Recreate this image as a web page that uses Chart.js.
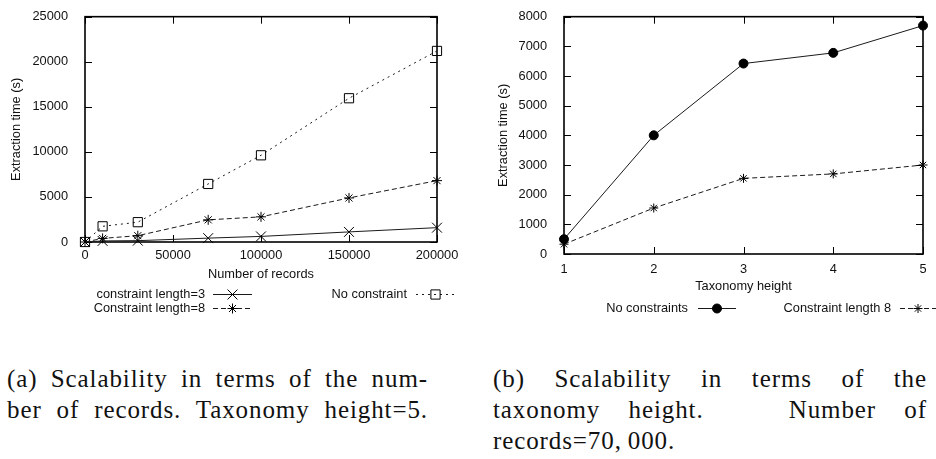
<!doctype html>
<html lang="en">
<head>
  <meta charset="utf-8">
  <title>Scalability of extraction time</title>
  <script src="https://cdn.jsdelivr.net/npm/chart.js"></script>
  <style>
    body { margin: 0; background: #fff; width: 936px; height: 459px; overflow: hidden; position: relative; }
    canvas { position: absolute; top: 0; }
    #chartA { left: 0; }
    #chartB { left: 470px; }
    .caption {
      position: absolute; top: 363px;
      font-family: "Liberation Serif", "DejaVu Serif", serif;
      font-size: 25px; line-height: 31px; letter-spacing: 0.9px; color: #111;
    }
    .caption .j { text-align: justify; text-align-last: justify; }
    #capA { left: 7px; width: 421px; }
    #capB { left: 493px; width: 434px; }
  </style>
</head>
<body>
  <canvas id="chartA" width="470" height="330"></canvas>
  <canvas id="chartB" width="466" height="330"></canvas>

  <div class="caption" id="capA">
    <div class="j">(a) Scalability in terms of the num-</div>
    <div class="j">ber of records. Taxonomy height=5.</div>
  </div>
  <div class="caption" id="capB">
    <div class="j">(b) Scalability in terms of the</div>
    <div class="j">taxonomy height. &nbsp; Number of</div>
    <div>records=70,&thinsp;000.</div>
  </div>

  <script>
    // (a) extraction time vs number of records
    const recordCounts      = [0, 10000, 30000, 70000, 100000, 150000, 200000];
    const len3Times         = [0, 120, 150, 430, 620, 1120, 1590];
    const len8Times         = [0, 400, 700, 2460, 2790, 4890, 6810];
    const noConstraintTimes = [0, 1740, 2200, 6440, 9620, 15950, 21200];
    const recordTicks       = [0, 50000, 100000, 150000, 200000];

    // (b) extraction time vs taxonomy height
    const taxHeights        = [1, 2, 3, 4, 5];
    const noConstraintsTax  = [500, 4000, 6420, 6780, 7700];
    const len8Tax           = [330, 1550, 2550, 2700, 3000];

    const FONT = { family: 'Liberation Sans, Arial, sans-serif', size: 12.8 };
    const INK = '#111';

    const pairs = (xs, ys) => xs.map((x, i) => ({ x: x, y: ys[i] }));

    // gnuplot style box with inward ticks on all four sides
    const frame = {
      id: 'frame',
      beforeDatasetsDraw(chart) {
        const { ctx, chartArea: a, scales } = chart;
        const tick = 7;
        ctx.save();
        ctx.strokeStyle = '#000';
        ctx.lineWidth = 1;
        ctx.beginPath();
        scales.x.ticks.forEach(t => {
          const px = Math.round(scales.x.getPixelForValue(t.value)) + 0.5;
          ctx.moveTo(px, a.bottom); ctx.lineTo(px, a.bottom - tick);
          ctx.moveTo(px, a.top); ctx.lineTo(px, a.top + tick);
        });
        scales.y.ticks.forEach(t => {
          const py = Math.round(scales.y.getPixelForValue(t.value)) + 0.5;
          ctx.moveTo(a.left, py); ctx.lineTo(a.left + tick, py);
          ctx.moveTo(a.right, py); ctx.lineTo(a.right - tick, py);
        });
        ctx.stroke();
        ctx.lineWidth = 1.6;
        ctx.strokeRect(a.left, a.top, a.right - a.left, a.bottom - a.top);
        ctx.restore();
      }
    };

    // key: text right-aligned, then a line sample with the point in the middle
    const key = {
      id: 'key',
      afterDraw(chart, args, opts) {
        const { ctx } = chart;
        ctx.save();
        ctx.font = FONT.size + 'px ' + FONT.family;
        ctx.textAlign = 'right';
        ctx.textBaseline = 'middle';
        chart.data.datasets.forEach((ds, i) => {
          const e = opts.entries[i];
          if (!e) return;
          ctx.fillStyle = INK;
          ctx.fillText(ds.label, e.textRight, e.y);
          ctx.strokeStyle = ds.borderColor;
          ctx.lineWidth = ds.borderWidth;
          ctx.setLineDash(ds.borderDash || []);
          ctx.beginPath();
          ctx.moveTo(e.x1, e.y + 0.5);
          ctx.lineTo(e.x2, e.y + 0.5);
          ctx.stroke();
          ctx.setLineDash([]);
          ctx.fillStyle = ds.pointBackgroundColor;
          ctx.strokeStyle = ds.pointBorderColor;
          ctx.lineWidth = ds.pointBorderWidth;
          Chart.helpers.drawPoint(ctx, {
            pointStyle: ds.pointStyle, radius: ds.pointRadius,
            rotation: 0, borderWidth: ds.pointBorderWidth
          }, (e.x1 + e.x2) / 2, e.y + 0.5);
        });
        ctx.restore();
      }
    };

    function series(label, data, dash, style, radius, fill) {
      return {
        label: label,
        data: data,
        borderColor: '#1a1a1a',
        borderWidth: 1,
        borderDash: dash,
        pointStyle: style,
        pointRadius: radius,
        pointHoverRadius: radius,
        pointBorderWidth: 1,
        pointBorderColor: '#000',
        pointBackgroundColor: fill,
        tension: 0,
        clip: false
      };
    }

    function axisTitle(text, pad) {
      return { display: true, text: text, color: INK, font: FONT, padding: pad };
    }

    const plain = v => String(v);

    function baseOptions(cfg) {
      return {
        responsive: false,
        animation: false,
        layout: { padding: cfg.padding },
        plugins: {
          legend: { display: false },
          tooltip: { enabled: false },
          key: { entries: cfg.entries }
        },
        scales: {
          x: {
            type: 'linear',
            min: cfg.xMin, max: cfg.xMax,
            afterFit: s => { s.height = cfg.xHeight; },
            afterBuildTicks: s => { s.ticks = cfg.xTicks.map(v => ({ value: v })); },
            ticks: { color: INK, font: FONT, padding: cfg.xPad, autoSkip: false, maxRotation: 0, callback: plain },
            grid: { display: false },
            border: { display: false },
            title: axisTitle(cfg.xTitle, { top: 4, bottom: 4 })
          },
          y: {
            min: 0, max: cfg.yMax,
            afterFit: s => { s.width = cfg.yWidth; },
            ticks: { stepSize: cfg.yStep, color: INK, font: FONT, padding: 9, autoSkip: false, callback: plain },
            grid: { display: false },
            border: { display: false },
            title: axisTitle('Extraction time (s)', { top: cfg.yTitlePad, bottom: 0 })
          }
        }
      };
    }

    new Chart(document.getElementById('chartA'), {
      type: 'line',
      data: {
        datasets: [
          series('constraint length=3', pairs(recordCounts, len3Times), [], 'crossRot', 7, '#000'),
          series('Constraint length=8', pairs(recordCounts, len8Times), [5, 3], 'star', 5, '#000'),
          series('No constraint', pairs(recordCounts, noConstraintTimes), [2, 4], 'rect', 6.5, 'rgba(255,255,255,0)')
        ]
      },
      options: baseOptions({
        padding: { top: 12, right: 33, left: 0, bottom: 44 },
        xMin: 0, xMax: 200000, xTicks: recordTicks,
        xHeight: 44, xPad: -2, xTitle: 'Number of records',
        yMax: 25000, yStep: 5000, yWidth: 85, yTitlePad: 8.5,
        entries: [
          { textRight: 205, y: 294, x1: 213, x2: 252 },
          { textRight: 205, y: 308, x1: 213, x2: 252 },
          { textRight: 407, y: 294, x1: 416, x2: 455 }
        ]
      }),
      plugins: [frame, key]
    });

    new Chart(document.getElementById('chartB'), {
      type: 'line',
      data: {
        datasets: [
          series('No constraints', pairs(taxHeights, noConstraintsTax), [], 'circle', 4.5, '#000'),
          series('Constraint length 8', pairs(taxHeights, len8Tax), [5, 3], 'star', 4.5, '#000')
        ]
      },
      options: baseOptions({
        padding: { top: 12, right: 13, left: 0, bottom: 32 },
        xMin: 1, xMax: 5, xTicks: taxHeights,
        xHeight: 44, xPad: 0, xTitle: 'Taxonomy height',
        yMax: 8000, yStep: 1000, yWidth: 94, yTitlePad: 25.5,
        entries: [
          { textRight: 218, y: 308, x1: 228, x2: 266 },
          { textRight: 421, y: 308, x1: 430, x2: 466 }
        ]
      }),
      plugins: [frame, key]
    });
  </script>
</body>
</html>
